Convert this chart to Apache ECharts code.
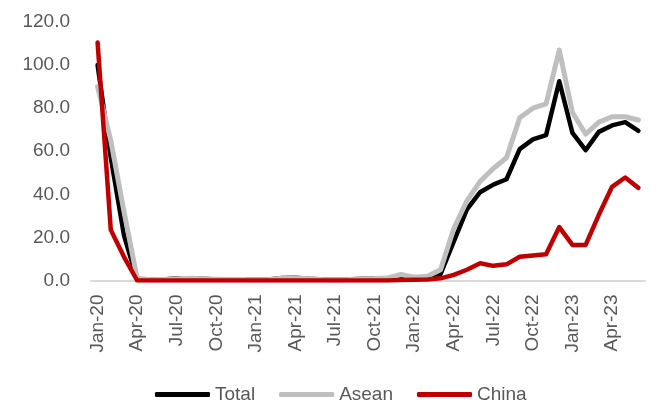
<!DOCTYPE html>
<html>
<head>
<meta charset="utf-8">
<script src="https://cdn.jsdelivr.net/npm/echarts@6/dist/echarts.min.js"></script>
<style>
html,body{margin:0;padding:0;background:#fff;}
#chart{width:656px;height:406px;}
</style>
</head>
<body>
<div id="chart"></div>
<script>
const categories = [
  "Jan-20","Feb-20","Mar-20","Apr-20","May-20","Jun-20","Jul-20","Aug-20","Sep-20","Oct-20","Nov-20","Dec-20",
  "Jan-21","Feb-21","Mar-21","Apr-21","May-21","Jun-21","Jul-21","Aug-21","Sep-21","Oct-21","Nov-21","Dec-21",
  "Jan-22","Feb-22","Mar-22","Apr-22","May-22","Jun-22","Jul-22","Aug-22","Sep-22","Oct-22","Nov-22","Dec-22",
  "Jan-23","Feb-23","Mar-23","Apr-23","May-23","Jun-23"
];
const total = [
  100, 57, 21, 0.3, 0.3, 0.5, 1, 1, 0.8, 0.5, 0.5, 0.6,
  0.4, 0.5, 1.2, 1.3, 0.8, 0.5, 0.4, 0.5, 0.8, 0.8, 1, 2,
  1.2, 1.5, 3, 18, 33, 41, 44.5, 47, 61, 65.5, 67.5, 92.5,
  68.5, 60.5, 69, 72, 73.5, 69.5
];
const asean = [
  90, 65, 32, 1, 0.3, 0.5, 0.8, 1, 0.8, 0.6, 0.5, 0.5,
  0.4, 0.5, 1, 1.2, 0.8, 0.5, 0.4, 0.5, 0.8, 0.9, 1.2, 2.8,
  1.5, 2, 5, 24, 37, 46, 52, 57, 75.5, 80, 82, 107,
  78, 68, 73.5, 76, 76, 74.5
];
const china = [
  110.5, 23.5, 11, 0, 0, 0, 0, 0, 0, 0, 0, 0,
  0, 0, 0, 0, 0, 0, 0, 0, 0, 0, 0, 0.2,
  0.3, 0.5, 1, 2.6, 5, 8, 6.8, 7.5, 11, 11.6, 12.2, 24.8,
  16.5, 16.5, 30.5, 43.5, 47.8, 43
];
const yTicks = [0, 20, 40, 60, 80, 100, 120];

const FONT = "Liberation Sans";
const TXT = "#595959";
const chart = echarts.init(document.getElementById('chart'), null, {renderer: 'canvas'});

function lineSeries(name, data, color, width) {
  return {
    name: name, type: 'line', data: data, symbol: 'none', smooth: false,
    lineStyle: {color: color, width: width, cap: 'round', join: 'round'},
    itemStyle: {color: color}
  };
}

chart.setOption({
  animation: false,
  backgroundColor: '#fff',
  grid: {left: 91, right: 11, top: 22, bottom: 125.5, containLabel: false},
  legend: {
    bottom: -3, left: 150,
    itemWidth: 55, itemHeight: 5, itemGap: 24,
    icon: 'roundRect',
    textStyle: {fontFamily: FONT, fontSize: 19, color: TXT},
    data: ['Total', 'Asean', 'China']
  },
  xAxis: {
    type: 'category', data: categories, boundaryGap: true,
    axisLine: {show: true, lineStyle: {color: '#D9D9D9', width: 2}},
    axisTick: {show: false},
    axisLabel: {interval: 2, rotate: 90, margin: 14, fontFamily: FONT, fontSize: 19, color: TXT},
    splitLine: {show: false}
  },
  yAxis: {
    type: 'value', min: yTicks[0], max: yTicks[yTicks.length - 1], interval: 20,
    axisLine: {show: false}, axisTick: {show: false}, splitLine: {show: false},
    axisLabel: {margin: 21, fontFamily: FONT, fontSize: 19, color: TXT,
      formatter: function (v) { return v.toFixed(1); }}
  },
  series: [
    lineSeries('Total', total, '#000000', 4.5),
    lineSeries('Asean', asean, '#BFBFBF', 5),
    lineSeries('China', china, '#C00000', 4.5)
  ]
});
</script>
</body>
</html>
